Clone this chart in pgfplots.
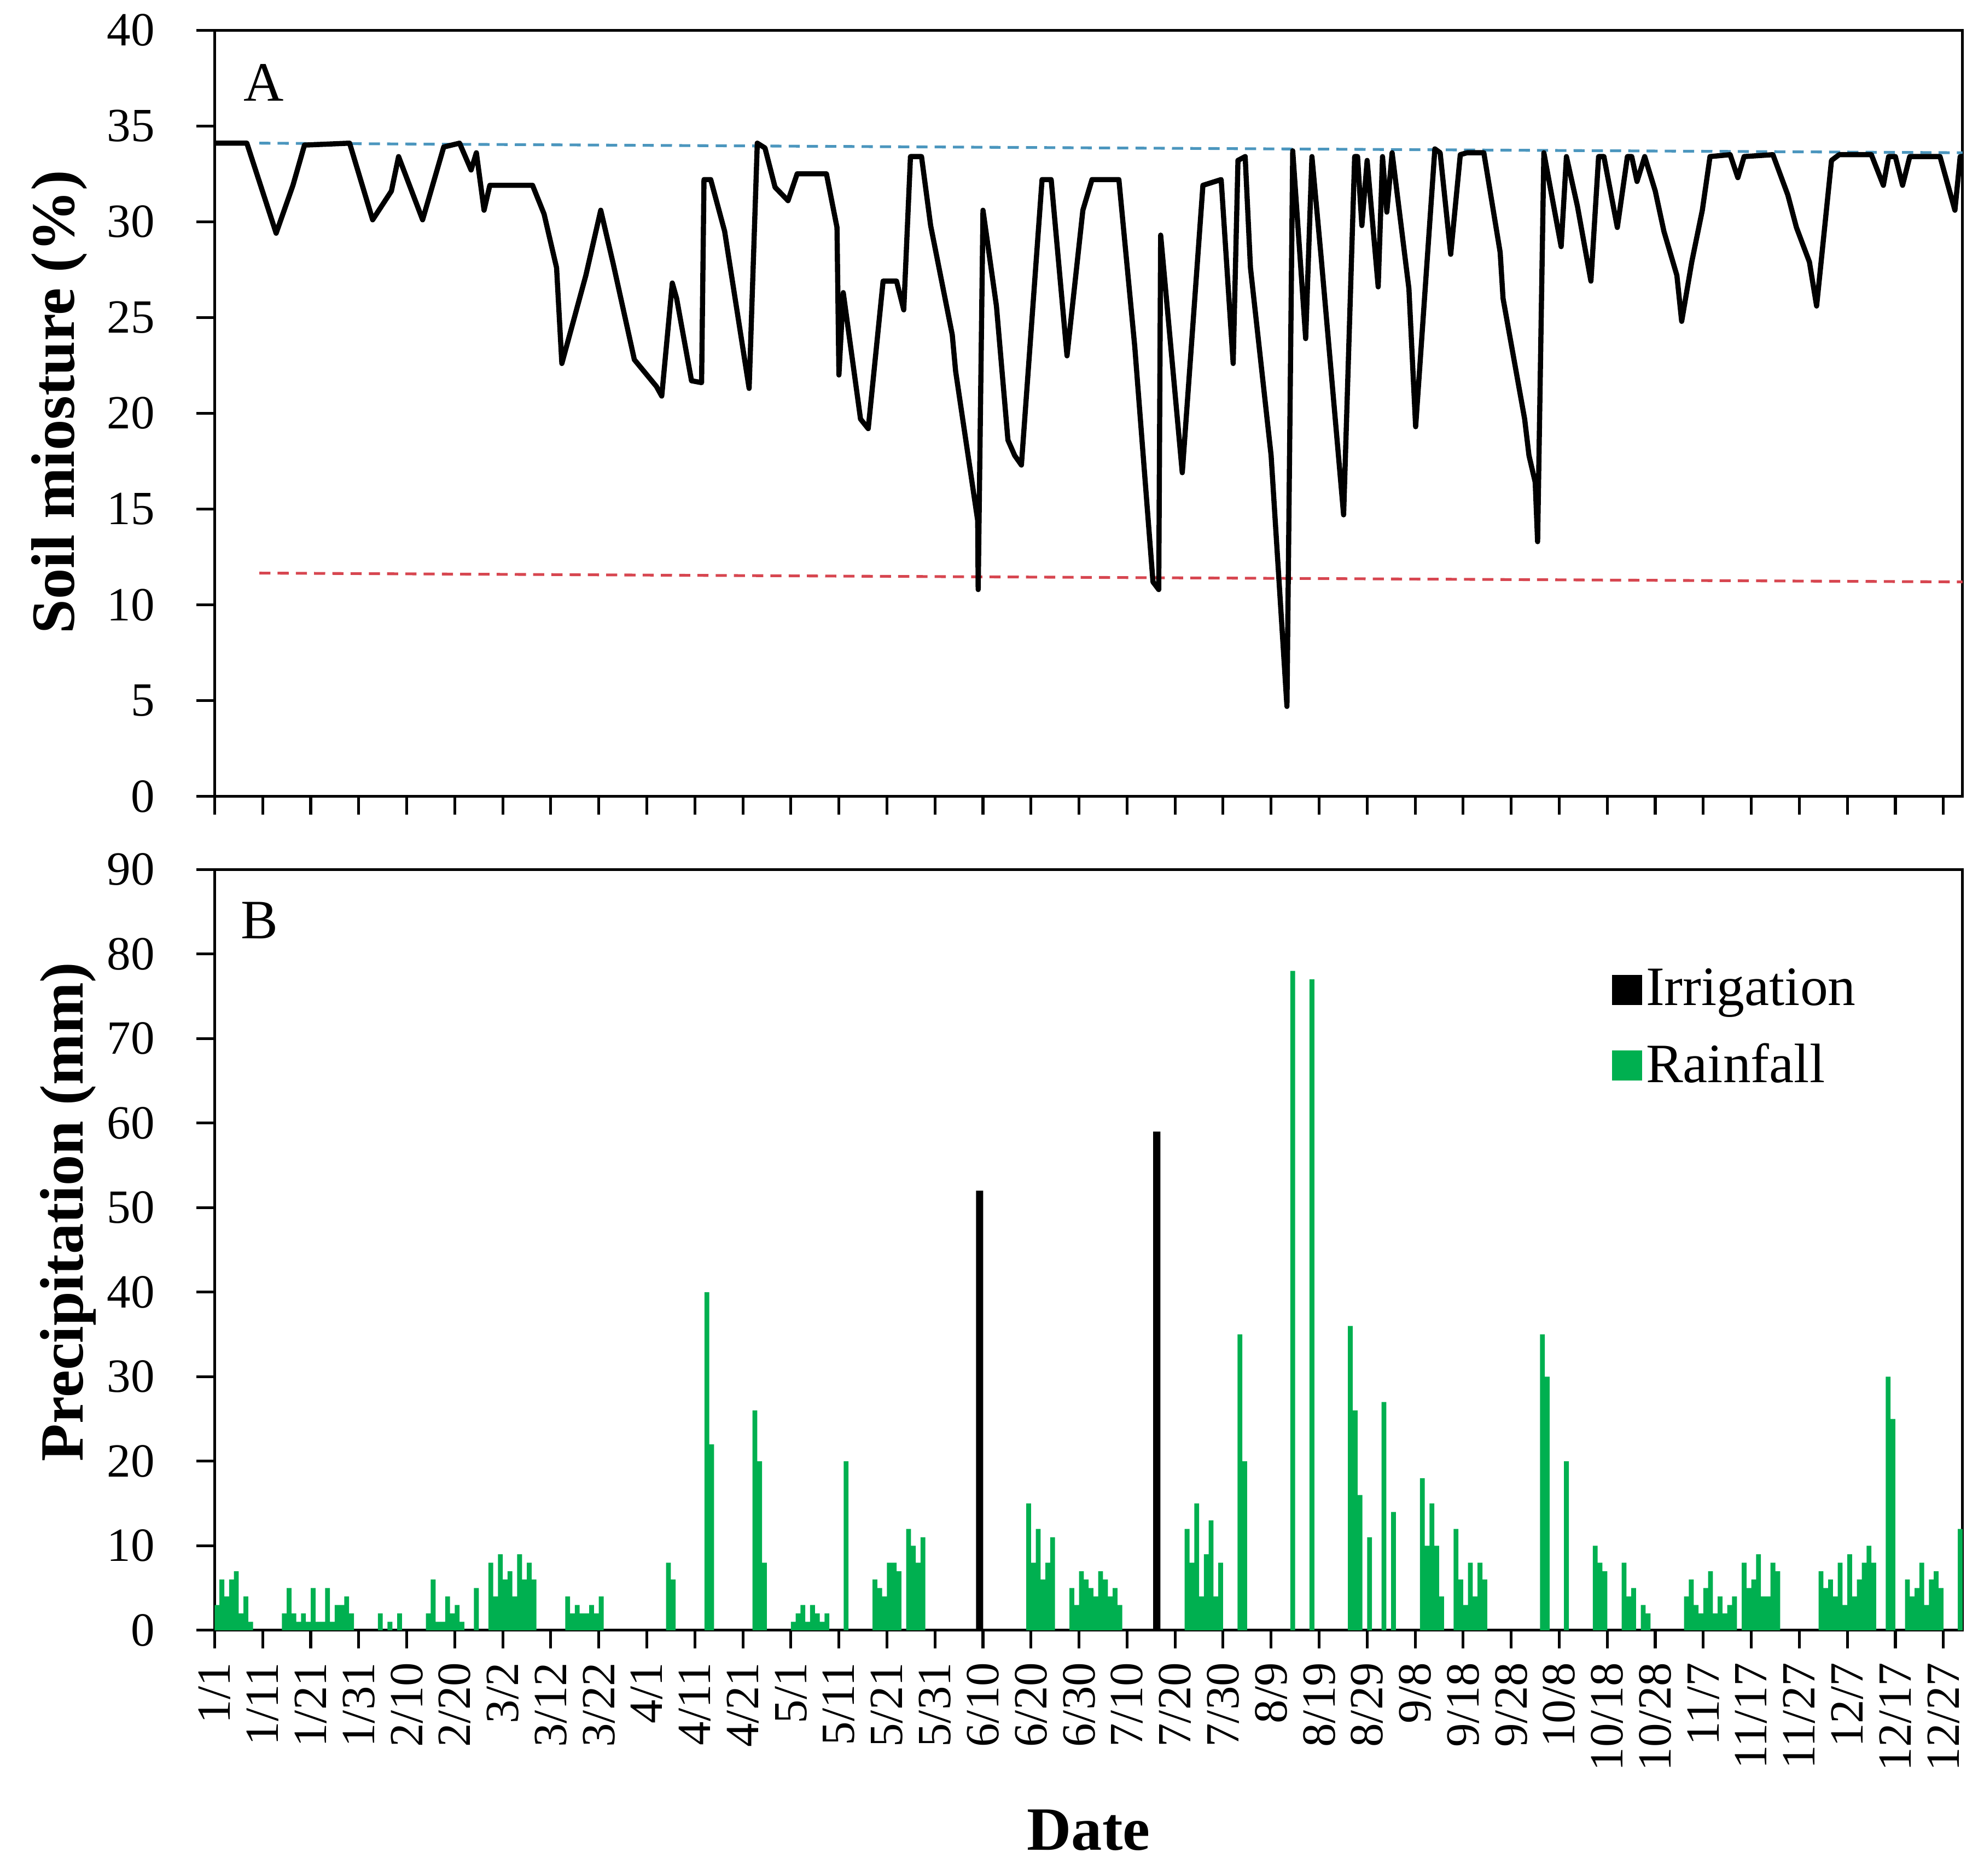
\documentclass[border=0pt]{standalone}
\usepackage{fontspec}
\setmainfont{Liberation Serif}
\usepackage{pgfplots}
\pgfplotsset{compat=1.18}
\definecolor{rain}{RGB}{0,176,80}
\definecolor{fcblue}{RGB}{75,150,190}
\definecolor{wpred}{RGB}{215,70,80}

\pgfplotstableread{
x y
1.5 3
2.5 6
3.5 4
4.5 6
5.5 7
6.5 2
7.5 4
8.5 1
15.5 2
16.5 5
17.5 2
18.5 1
19.5 2
20.5 1
21.5 5
22.5 1
23.5 1
24.5 5
25.5 1
26.5 3
27.5 3
28.5 4
29.5 2
35.5 2
37.5 1
39.5 2
45.5 2
46.5 6
47.5 1
48.5 1
49.5 4
50.5 2
51.5 3
52.5 1
55.5 5
58.5 8
59.5 4
60.5 9
61.5 6
62.5 7
63.5 4
64.5 9
65.5 6
66.5 8
67.5 6
74.5 4
75.5 2
76.5 3
77.5 2
78.5 2
79.5 3
80.5 2
81.5 4
95.5 8
96.5 6
103.5 40
104.5 22
113.5 26
114.5 20
115.5 8
121.5 1
122.5 2
123.5 3
124.5 1
125.5 3
126.5 2
127.5 1
128.5 2
132.5 20
138.5 6
139.5 5
140.5 4
141.5 8
142.5 8
143.5 7
145.5 12
146.5 10
147.5 8
148.5 11
170.5 15
171.5 8
172.5 12
173.5 6
174.5 8
175.5 11
179.5 5
180.5 3
181.5 7
182.5 6
183.5 5
184.5 4
185.5 7
186.5 6
187.5 4
188.5 5
189.5 3
203.5 12
204.5 8
205.5 15
206.5 4
207.5 9
208.5 13
209.5 4
210.5 8
214.5 35
215.5 20
225.5 78
229.5 77
237.5 36
238.5 26
239.5 16
241.5 11
244.5 27
246.5 14
252.5 18
253.5 10
254.5 15
255.5 10
256.5 4
259.5 12
260.5 6
261.5 3
262.5 8
263.5 4
264.5 8
265.5 6
277.5 35
278.5 30
282.5 20
288.5 10
289.5 8
290.5 7
294.5 8
295.5 4
296.5 5
298.5 3
299.5 2
307.5 4
308.5 6
309.5 3
310.5 2
311.5 5
312.5 7
313.5 2
314.5 4
315.5 2
316.5 3
317.5 4
319.5 8
320.5 5
321.5 6
322.5 9
323.5 4
324.5 4
325.5 8
326.5 7
335.5 7
336.5 5
337.5 6
338.5 4
339.5 8
340.5 3
341.5 9
342.5 4
343.5 6
344.5 8
345.5 10
346.5 8
349.5 30
350.5 25
353.5 6
354.5 4
355.5 5
356.5 8
357.5 3
358.5 6
359.5 7
360.5 5
364.5 12
}\rainfall

\pgfplotstableread{
x y
160.3 52
197.2 59
}\irrigation

\pgfplotstableread{
x y
1 34.1
7.7 34.1
13.8 29.4
17.3 31.9
19.7 34.0
29.1 34.1
33.9 30.1
37.8 31.6
39.3 33.4
44.3 30.1
48.7 33.9
52 34.1
54.4 32.7
55.5 33.6
57.1 30.6
58.3 31.9
67.2 31.9
69.6 30.4
72.2 27.6
73.3 22.6
78.3 27.2
81.4 30.6
84 27.8
88.4 22.8
93 21.4
94.1 20.9
96.3 26.8
97.2 26.0
100.3 21.7
102.4 21.6
102.9 32.2
104.3 32.2
107.2 29.5
112.3 21.3
114 34.1
115.6 33.85
117.7 31.8
120.4 31.1
122.3 32.5
128.4 32.5
130.6 29.7
131 22.0
131.9 26.3
135.5 19.7
137.1 19.2
140.2 26.9
143 26.9
144.5 25.4
145.9 33.4
148.2 33.4
150.1 29.8
154.6 24.1
155.3 22.2
159.9 14.4
160 10.8
161 30.6
163.8 25.6
166.2 18.6
167.6 17.8
169 17.3
173.3 32.2
175.2 32.2
178.5 23.0
181.8 30.6
183.7 32.2
189.3 32.2
192.6 23.5
196.4 11.2
197.6 10.8
198 29.3
202.5 16.9
206.8 31.9
210.6 32.2
213.1 22.6
214.1 33.2
215.6 33.4
216.7 27.6
221 17.8
224.3 4.7
225.5 33.7
228.2 23.9
229.5 33.4
231.4 28.2
236.1 14.7
238.4 33.4
239 33.4
239.9 29.8
241 33.2
243.3 26.6
244.2 33.4
245.1 30.5
246.2 33.6
249.7 26.5
251.1 19.3
255.1 33.8
256.2 33.6
258.4 28.3
260.4 33.5
261.8 33.6
265.3 33.6
268.7 28.4
269.3 26.0
273.8 19.7
274.7 17.8
276 16.4
276.5 13.3
277.8 33.6
281.4 28.7
282.5 33.4
284.8 30.8
287.6 26.9
289.2 33.4
290.3 33.4
293.1 29.7
295.2 33.4
296.1 33.4
297.2 32.1
298.8 33.4
301 31.6
302.8 29.5
305.5 27.2
306.5 24.8
308.6 27.9
310.8 30.6
312.4 33.4
316.6 33.5
318.2 32.3
319.5 33.4
325.5 33.5
328.6 31.4
330.4 29.7
333.1 27.9
334.6 25.6
337.7 33.2
339.3 33.5
346 33.5
348.5 31.9
349.6 33.4
351 33.4
352.5 31.9
354 33.4
360.3 33.4
363.4 30.6
364.5 33.4
365 33.4
}\moisture

\pgfplotsset{
  common/.style={
    scale only axis,
    width=440.5pt,
    xmin=1, xmax=365,
    xtick={1,11,...,361},
    tick align=outside,
    xtick pos=bottom,
    ytick pos=left,
    major tick length=4.6pt,
    axis line style={line width=0.7pt},
    every tick/.style={black, line width=0.7pt},
    tick label style={font=\fontsize{12}{14}\selectfont},
    /pgf/number format/assume math mode=true,
    yticklabel style={xshift=-7pt},
    clip=true,
  }
}

\begin{document}
\begin{tikzpicture}
\path[use as bounding box] (0,0) rectangle (500pt,472.6pt);

\begin{axis}[common,
  at={(54.1pt,271.9pt)}, anchor=south west,
  height=193.1pt,
  ymin=0, ymax=40, ytick={0,5,...,40},
  xticklabels={},
  ylabel={Soil miosture (\%)},
  every axis y label/.style={at={(axis description cs:-0.0888,0.515)}, rotate=90, anchor=center,
    font=\bfseries\fontsize{15.5}{18}\selectfont},
]
\addplot[fcblue, line width=0.7pt, dash pattern=on 2.8pt off 1.8pt] coordinates {(10.3,34.1) (365,33.6)};
\addplot[wpred, line width=0.7pt, dash pattern=on 2.8pt off 1.8pt] coordinates {(10.3,11.66) (365,11.2)};
\addplot[black, line width=1.3pt, line join=round] table[x=x,y=y] {\moisture};
\node[anchor=base west, inner sep=0pt, font=\fontsize{14}{16}\selectfont] at (axis description cs:0.016,0.9076) {A};
\end{axis}

\begin{axis}[common,
  at={(54.1pt,61.8pt)}, anchor=south west,
  height=191.7pt,
  ymin=0, ymax=90, ytick={0,10,...,90},
  xticklabels={1/1,1/11,1/21,1/31,2/10,2/20,3/2,3/12,3/22,4/1,4/11,4/21,5/1,5/11,5/21,5/31,6/10,6/20,6/30,7/10,7/20,7/30,8/9,8/19,8/29,9/8,9/18,9/28,10/8,10/18,10/28,11/7,11/17,11/27,12/7,12/17,12/27},
  xticklabel style={rotate=90, anchor=east},
  ylabel={Precipitation (mm)},
  every axis y label/.style={at={(axis description cs:-0.0838,0.55)}, rotate=90, anchor=center,
    font=\bfseries\fontsize{15.5}{18}\selectfont},
  xlabel={Date},
  every axis x label/.style={at={(axis description cs:0.5,0)}, yshift=-55.4pt, anchor=base,
    font=\bfseries\fontsize{15.5}{18}\selectfont},
  legend style={at={(axis description cs:0.7989,0.876)}, anchor=north west, draw=none, fill=none,
    font=\fontsize{14}{16}\selectfont, row sep=6pt, inner sep=0pt, nodes={inner sep=1pt}},
  legend cell align=left,
  legend image code/.code={\path[#1,draw=none] (0pt,-3.8pt) rectangle (7.6pt,3.8pt);},
]
\addplot[ybar, bar width=1.5, bar shift=0pt, fill=black, draw=none] table[x=x,y=y] {\irrigation};
\addlegendentry{Irrigation}
\addplot[ybar, bar width=1, bar shift=0pt, fill=rain, draw=none] table[x=x,y=y] {\rainfall};
\addlegendentry{Rainfall}
\node[anchor=base west, inner sep=0pt, font=\fontsize{14}{16}\selectfont] at (axis description cs:0.0145,0.909) {B};
\end{axis}
\end{tikzpicture}
\end{document}
